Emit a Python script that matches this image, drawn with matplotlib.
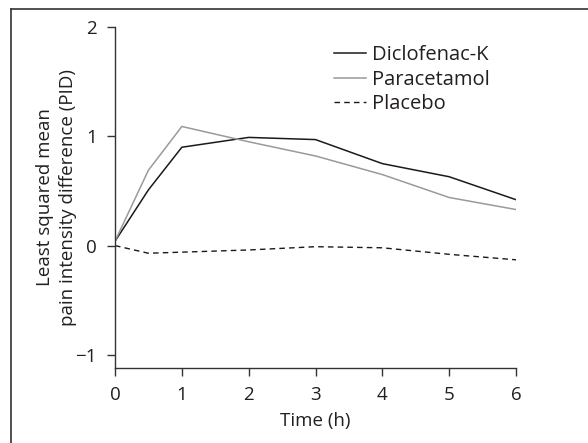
import matplotlib
matplotlib.use('Agg')
import matplotlib.pyplot as plt
from matplotlib.lines import Line2D

plt.rcParams['font.family'] = ['Open Sans', 'DejaVu Sans']

# time points (h)
time_h = [0, 0.5, 1, 2, 3, 4, 5, 6]

# least squared mean PID per treatment
diclofenac = [0.04, 0.51, 0.90, 0.99, 0.97, 0.75, 0.63, 0.42]
paracetamol = [0.04, 0.69, 1.09, 0.95, 0.82, 0.65, 0.44, 0.33]
placebo = [0.0, -0.07, -0.06, -0.04, -0.01, -0.02, -0.08, -0.13]

xticks = [0, 1, 2, 3, 4, 5, 6]
yticks = [-1, 0, 1, 2]

txt = '#231f20'
fs = 13.5

fig = plt.figure(figsize=[5.88, 4.43], dpi=100)
ax = fig.add_axes([0.1956, 0.1693, 0.682, 0.7697])

ax.plot(time_h, diclofenac, color='#1a1a1a', linewidth=1.1, label='Diclofenac-K')
ax.plot(time_h, paracetamol, color='#9a9a9a', linewidth=1.1, label='Paracetamol')
ax.plot(time_h, placebo, color='#1a1a1a', linewidth=1.0,
        linestyle=(0, (4, 3)), label='Placebo')

ax.set_xlim(0, 6)
ax.set_ylim(-1.12, 2)
ax.set_xticks(xticks)
ax.set_yticks(yticks)
ax.set_yticklabels(['\u22121', '0', '1', '2'])

for s in ['top', 'right']:
    ax.spines[s].set_visible(False)
for s in ['left', 'bottom']:
    ax.spines[s].set_color('#333333')
    ax.spines[s].set_linewidth(1.0)
ax.tick_params(direction='out', length=6, width=1.0, color='#333333',
               labelsize=fs, labelcolor=txt, pad=7)

ax.set_xlabel('Time (h)', fontsize=fs, color=txt, labelpad=6)
ax.set_ylabel('Least squared mean\npain intensity difference (PID)',
              fontsize=fs, color=txt, labelpad=-1, linespacing=1.35)

ax.legend(loc='upper left', bbox_to_anchor=(0.5, 1.0), frameon=False,
          fontsize=14.5, handlelength=1.6, handletextpad=0.32,
          labelspacing=0.22, labelcolor=txt)

# partial frame (top and left) around the figure
fig.add_artist(Line2D([11/588, 1.0], [1 - 9/443, 1 - 9/443],
                      transform=fig.transFigure, color='#333333', linewidth=1.2))
fig.add_artist(Line2D([11/588, 11/588], [0.0, 1 - 9/443],
                      transform=fig.transFigure, color='#333333', linewidth=1.2))

plt.savefig('out.png', dpi=100)
